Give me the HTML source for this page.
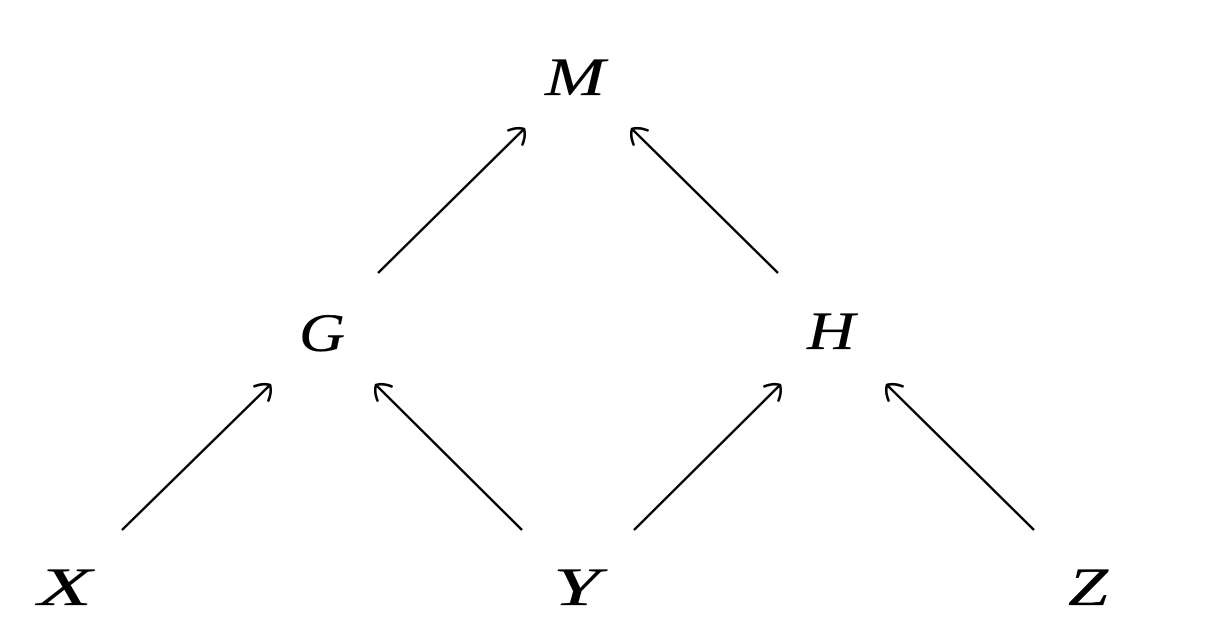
<!DOCTYPE html>
<html><head><meta charset="utf-8"><style>
html,body{margin:0;padding:0;background:#fff;width:1220px;height:640px;overflow:hidden}
</style></head><body>
<svg width="1220" height="640" viewBox="0 0 1220 640" xmlns="http://www.w3.org/2000/svg">
<defs>
<marker id="a" markerUnits="userSpaceOnUse" markerWidth="30" markerHeight="30" refX="15" refY="15" orient="auto" viewBox="0 0 30 30">
<path d="M3,5 Q12,9 15,15 Q12,21 3,25" fill="none" stroke="#000" stroke-width="2.6" stroke-linecap="round"/>
</marker>
</defs>
<g stroke="#000" stroke-width="2.4" fill="none">
<line x1="122" y1="530" x2="270" y2="385" marker-end="url(#a)"/>
<line x1="378" y1="273" x2="524" y2="129" marker-end="url(#a)"/>
<line x1="778" y1="273" x2="632" y2="129" marker-end="url(#a)"/>
<line x1="522" y1="530" x2="376" y2="385" marker-end="url(#a)"/>
<line x1="634" y1="530" x2="780" y2="385" marker-end="url(#a)"/>
<line x1="1034" y1="530" x2="887" y2="385" marker-end="url(#a)"/>
</g>
<g font-family="Liberation Serif, serif" font-style="italic" font-size="54" fill="#000" stroke="#000" stroke-width="0.3">
<text x="545" y="95" textLength="60" lengthAdjust="spacingAndGlyphs">M</text>
<text x="299" y="351" textLength="46" lengthAdjust="spacingAndGlyphs">G</text>
<text x="807" y="349" textLength="48" lengthAdjust="spacingAndGlyphs">H</text>
<text x="38" y="605" textLength="54" lengthAdjust="spacingAndGlyphs">X</text>
<text x="553" y="605" textLength="47" lengthAdjust="spacingAndGlyphs">Y</text>
<text x="1068" y="605" textLength="40" lengthAdjust="spacingAndGlyphs">Z</text>
</g>
</svg>
</body></html>
